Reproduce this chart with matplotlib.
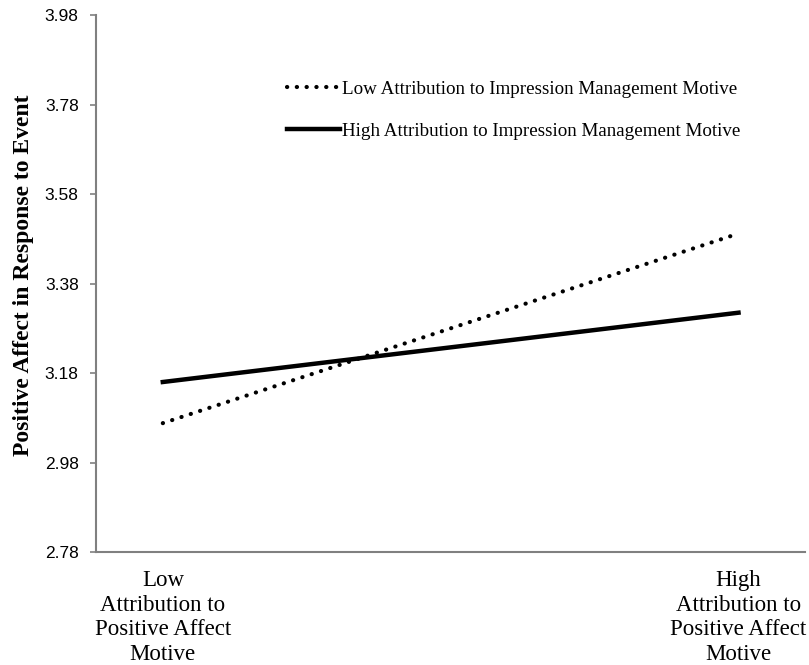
import matplotlib.pyplot as plt

categories = ['Low\nAttribution to\nPositive Affect\nMotive',
              'High\nAttribution to\nPositive Affect\nMotive']
low_im = [3.068, 3.492]
high_im = [3.160, 3.315]
series_labels = ['Low Attribution to Impression Management Motive',
                 'High Attribution to Impression Management Motive']
yticks = [2.78, 2.98, 3.18, 3.38, 3.58, 3.78, 3.98]

fig = plt.figure(figsize=(8.09, 6.65), dpi=100)
ax = fig.add_axes([0.1187, 0.170, 0.876, 0.807])

x = range(len(categories))
ax.plot(x, low_im, color='black', lw=3.0, linestyle=(0, (0.05, 2.3)),
        dash_capstyle='round', solid_capstyle='round', label=series_labels[0])
ax.plot(x, high_im, color='black', lw=3.2, label=series_labels[1])

ax.set_xlim(-0.116, 1.115)
ax.set_ylim(2.78, 3.98)
ax.set_yticks(yticks)
ax.set_yticklabels(['%.2f' % v for v in yticks], family='Liberation Sans', fontsize=12.5)
ax.set_xticks(list(x))
ax.set_xticklabels(categories, family='Liberation Serif', fontsize=16.5, linespacing=1.22)
ax.tick_params(axis='x', length=0, pad=13)
ax.tick_params(axis='y', length=4.5, width=1.2, color='#808080', pad=8)

for s in ['top', 'right']:
    ax.spines[s].set_visible(False)
for s in ['left', 'bottom']:
    ax.spines[s].set_color('#808080')
    ax.spines[s].set_linewidth(1.5)

ax.set_ylabel('Positive Affect in Response to Event', family='Liberation Serif',
              fontsize=17, fontweight='bold', labelpad=8)
ax.yaxis.set_label_coords(-0.088, 0.515)

leg = ax.legend(loc='upper left', bbox_to_anchor=(0.245, 0.91), frameon=False,
                prop={'family': 'Liberation Serif', 'size': 13.7},
                handlelength=2.8, handletextpad=0.1, labelspacing=1.3)

fig.savefig('out.png', dpi=100)
